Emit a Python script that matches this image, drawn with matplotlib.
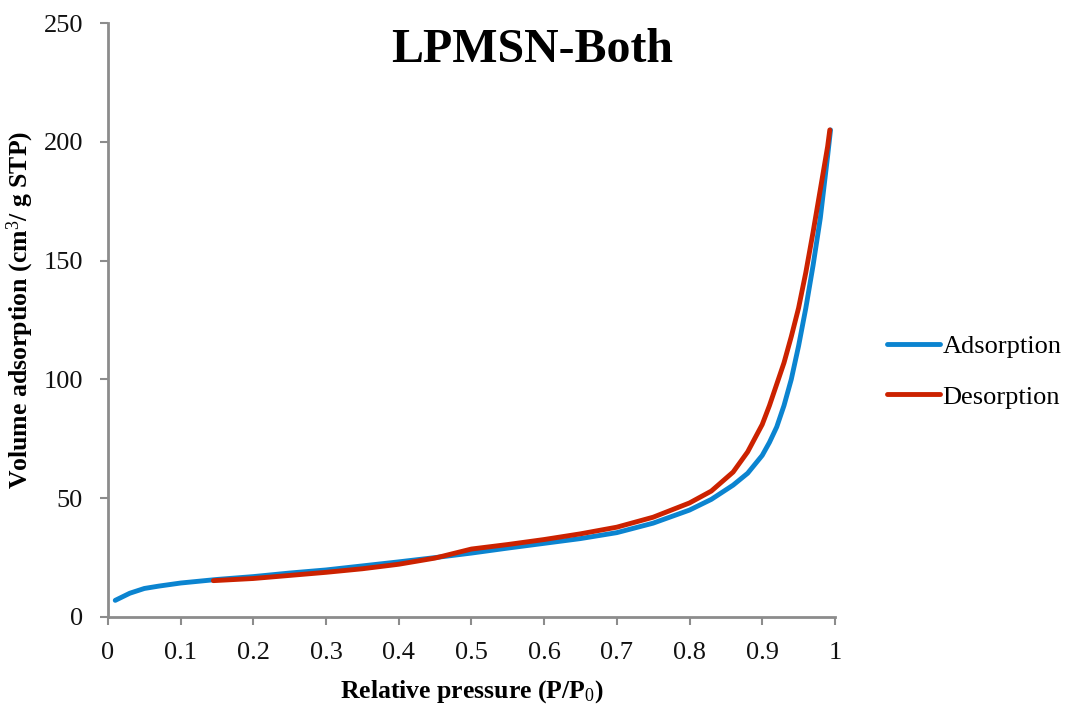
import matplotlib
matplotlib.use("Agg")
import matplotlib.pyplot as plt

# Data
ads_x = [0.01, 0.03, 0.05, 0.07, 0.1, 0.15, 0.2, 0.25, 0.3, 0.35, 0.4, 0.45, 0.5, 0.55,
         0.6, 0.65, 0.7, 0.75, 0.8, 0.83, 0.86, 0.88, 0.9, 0.91, 0.92, 0.93, 0.94, 0.95,
         0.96, 0.97, 0.98, 0.99, 0.994]
ads_y = [7, 10, 12, 13, 14.3, 15.8, 17, 18.5, 19.8, 21.5, 23.2, 25, 26.9, 29,
         31, 33, 35.5, 39.5, 45, 49.5, 55.5, 60.5, 68, 73.5, 80, 89, 100, 114,
         130, 148, 168, 194, 205]

des_x = [0.145, 0.2, 0.25, 0.3, 0.35, 0.4, 0.45, 0.5, 0.55, 0.6, 0.65, 0.7, 0.75, 0.8,
         0.83, 0.86, 0.88, 0.9, 0.91, 0.92, 0.93, 0.94, 0.95, 0.96, 0.97, 0.98, 0.99, 0.993]
des_y = [15.3, 16.2, 17.5, 18.8, 20.3, 22.2, 24.8, 28.6, 30.5, 32.6, 35, 37.8, 42, 48,
         53, 61, 69.5, 81, 89, 98, 107, 118, 130, 145, 162, 180, 198, 205]

x_ticks = [0, 0.1, 0.2, 0.3, 0.4, 0.5, 0.6, 0.7, 0.8, 0.9, 1]
x_tick_labels = ["0", "0.1", "0.2", "0.3", "0.4", "0.5", "0.6", "0.7", "0.8", "0.9", "1"]
y_ticks = [0, 50, 100, 150, 200, 250]

plt.rcParams['font.family'] = ['Liberation Serif', 'DejaVu Serif']
plt.rcParams['mathtext.fontset'] = 'custom'
plt.rcParams['mathtext.rm'] = 'Liberation Serif'
plt.rcParams['mathtext.bf'] = 'Liberation Serif:bold'
plt.rcParams['mathtext.it'] = 'Liberation Serif:italic'

fig = plt.figure(figsize=(10.69, 7.10), dpi=100)
ax = fig.add_axes([0.101, 0.131, 0.680, 0.8366])

ax.plot(ads_x, ads_y, color='#0B84D0', lw=3.5, solid_capstyle='round', label='Adsorption')
ax.plot(des_x, des_y, color='#CC2200', lw=3.5, solid_capstyle='round', label='Desorption')

ax.set_xlim(0, 1)
ax.set_ylim(0, 250)
ax.set_xticks(x_ticks)
ax.set_xticklabels(x_tick_labels)
ax.set_yticks(y_ticks)

for s in ['top', 'right']:
    ax.spines[s].set_visible(False)
for s in ['left', 'bottom']:
    ax.spines[s].set_color('#8c8c8c')
    ax.spines[s].set_linewidth(2)
ax.tick_params(axis='both', direction='out', length=6, width=1.5, color='#8c8c8c',
               labelsize=19, labelcolor='#111111', pad=12)

ax.set_xlabel('Relative pressure (P/P$_{\\mathrm{0}}$)', fontsize=18.5, fontweight='bold',
              va='top')
ax.xaxis.set_label_coords(0.5, -0.103)
ax.set_ylabel('Volume adsorption (cm$^{\\mathrm{3}}$/ g STP)', fontsize=18.5, fontweight='bold')
ax.yaxis.set_label_coords(-0.099, 0.517)

fig.text(0.4977, 0.9127, 'LPMSN-Both', fontsize=34.5, fontweight='bold', ha='center',
         va='baseline')

leg = ax.legend(loc='center left', bbox_to_anchor=(1.0715, 0.413), frameon=False, fontsize=19,
                handlelength=2.0, handletextpad=0.1, labelspacing=1.02,
                borderpad=0, borderaxespad=0)

fig.savefig('out.png', dpi=100)
